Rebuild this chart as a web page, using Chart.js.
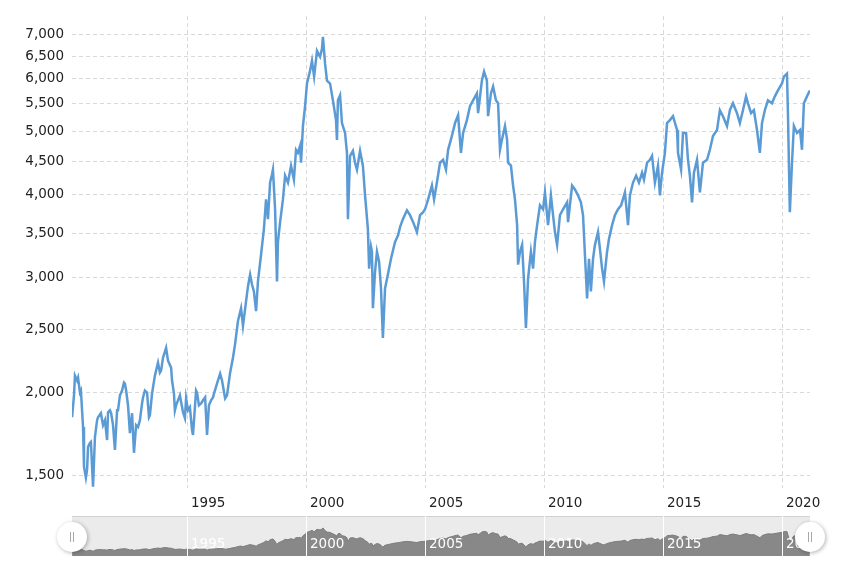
<!DOCTYPE html>
<html>
<head>
<meta charset="utf-8">
<script src="https://cdn.jsdelivr.net/npm/chart.js@4.4.1/dist/chart.umd.min.js"></script>
<style>
  html, body { margin: 0; padding: 0; background: #fff; }
  #wrap { position: relative; width: 855px; height: 577px; }
  #mainChart { position: absolute; left: 0; top: 0; }
  #navChart { position: absolute; left: 0; top: 505px; }
</style>
</head>
<body>
<div id="wrap">
  <canvas id="mainChart" width="855" height="577"></canvas>
  <canvas id="navChart" width="855" height="72"></canvas>
</div>
<script>
// index level, x = decimal year
const years = [
  1990.13, 1990.21, 1990.25, 1990.34, 1990.38, 1990.46, 1990.50, 1990.59, 1990.63, 1990.71,
  1990.76, 1990.80, 1990.88, 1990.92, 1991.01, 1991.09, 1991.18, 1991.22, 1991.34, 1991.43,
  1991.51, 1991.60, 1991.64, 1991.72, 1991.77, 1991.85, 1991.93, 1992.02, 1992.06, 1992.14,
  1992.23, 1992.31, 1992.35, 1992.40, 1992.48, 1992.56, 1992.65, 1992.73, 1992.82, 1992.90,
  1992.98, 1993.07, 1993.11, 1993.19, 1993.28, 1993.36, 1993.40, 1993.49, 1993.61, 1993.74,
  1993.82, 1993.87, 1993.95, 1994.08, 1994.16, 1994.29, 1994.33, 1994.41, 1994.45, 1994.50,
  1994.66, 1994.79, 1994.87, 1994.92, 1995.00, 1995.08, 1995.17, 1995.21, 1995.34, 1995.38,
  1995.46, 1995.55, 1995.63, 1995.72, 1995.80, 1995.88, 1995.97, 1996.05, 1996.13, 1996.26,
  1996.35, 1996.43, 1996.56, 1996.64, 1996.77, 1996.89, 1996.98, 1997.10, 1997.23, 1997.31,
  1997.44, 1997.52, 1997.61, 1997.69, 1997.77, 1997.86, 1997.94, 1998.07, 1998.19, 1998.28,
  1998.36, 1998.45, 1998.53, 1998.57, 1998.66, 1998.74, 1998.78, 1998.87, 1998.99, 1999.08,
  1999.20, 1999.33, 1999.45, 1999.54, 1999.62, 1999.71, 1999.75, 1999.83, 1999.92, 2000.00,
  2000.13, 2000.21, 2000.30, 2000.42, 2000.55, 2000.63, 2000.67, 2000.76, 2000.84, 2000.97,
  2001.09, 2001.22, 2001.26, 2001.30, 2001.39, 2001.47, 2001.60, 2001.68, 2001.72, 2001.81,
  2001.93, 2002.02, 2002.10, 2002.23, 2002.35, 2002.44, 2002.56, 2002.61, 2002.69, 2002.73,
  2002.77, 2002.86, 2002.94, 2003.03, 2003.11, 2003.19, 2003.28, 2003.40, 2003.53, 2003.70,
  2003.83, 2003.91, 2004.03, 2004.20, 2004.33, 2004.46, 2004.62, 2004.75, 2004.88, 2004.96,
  2005.09, 2005.25, 2005.34, 2005.46, 2005.59, 2005.72, 2005.84, 2005.93, 2006.09, 2006.22,
  2006.35, 2006.47, 2006.56, 2006.72, 2006.85, 2006.98, 2007.14, 2007.19, 2007.35, 2007.44,
  2007.56, 2007.61, 2007.73, 2007.82, 2007.94, 2008.03, 2008.11, 2008.19, 2008.32, 2008.41,
  2008.45, 2008.57, 2008.66, 2008.74, 2008.83, 2008.87, 2008.95, 2009.04, 2009.12, 2009.20,
  2009.29, 2009.41, 2009.50, 2009.58, 2009.67, 2009.79, 2009.92, 2010.00, 2010.13, 2010.25,
  2010.34, 2010.42, 2010.51, 2010.63, 2010.76, 2010.93, 2010.97, 2011.14, 2011.26, 2011.39,
  2011.51, 2011.60, 2011.68, 2011.77, 2011.85, 2011.93, 2012.02, 2012.10, 2012.23, 2012.31,
  2012.40, 2012.48, 2012.61, 2012.69, 2012.82, 2012.94, 2013.07, 2013.20, 2013.36, 2013.49,
  2013.57, 2013.70, 2013.83, 2013.95, 2014.08, 2014.16, 2014.29, 2014.41, 2014.50, 2014.62,
  2014.75, 2014.83, 2014.92, 2015.04, 2015.13, 2015.25, 2015.38, 2015.55, 2015.59, 2015.72,
  2015.80, 2015.93, 2016.01, 2016.09, 2016.18, 2016.26, 2016.39, 2016.51, 2016.64, 2016.81,
  2016.93, 2017.06, 2017.23, 2017.35, 2017.48, 2017.65, 2017.77, 2017.90, 2018.07, 2018.19,
  2018.32, 2018.45, 2018.53, 2018.66, 2018.78, 2018.91, 2019.03, 2019.12, 2019.24, 2019.37,
  2019.54, 2019.66, 2019.79, 2019.96, 2020.04, 2020.17, 2020.21, 2020.25, 2020.29, 2020.38,
  2020.46, 2020.59, 2020.72, 2020.80, 2020.88, 2021.01, 2021.13
];

const levels = [
  1837, 1983, 2125, 2089, 2110, 2003, 2017, 1775, 1545, 1487,
  1529, 1656, 1679, 1685, 1441, 1714, 1818, 1837, 1863, 1787,
  1818, 1696, 1869, 1882, 1863, 1787, 1639, 1882, 1882, 1983,
  2017, 2074, 2067, 2017, 1915, 1738, 1863, 1622, 1787, 1775,
  1818, 1928, 1969, 2017, 2003, 1837, 1850, 1996, 2125, 2223,
  2147, 2162, 2262, 2342, 2239, 2185, 2089, 1996, 1882, 1915,
  1983, 1869, 1831, 1962, 1882, 1902, 1756, 1726, 2017, 2003,
  1915, 1928, 1949, 1969, 1726, 1915, 1949, 1969, 2017, 2089,
  2140, 2089, 1962, 1983, 2147, 2262, 2375, 2572, 2690, 2528,
  2756, 2903, 3026, 2923, 2853, 2662, 2954, 3244, 3549, 3937,
  3674, 4176, 4294, 4369, 3803, 2954, 3393, 3636, 3937, 4279,
  4176, 4430, 4220, 4683, 4634, 4748, 4476, 5089, 5454, 5906,
  6178, 6396, 6051, 6622, 6486, 6669, 6952, 6330, 5967, 5906,
  5568, 5196, 4848, 5568, 5666, 5142, 4967, 4634, 3674, 4586,
  4667, 4476, 4369, 4667, 4430, 3993, 3549, 3090, 3335, 3278,
  2690, 3058, 3278, 3166, 2883, 2425, 2883, 3026, 3199, 3393,
  3476, 3573, 3674, 3790, 3725, 3636, 3512, 3725, 3764, 3803,
  3937, 4133, 3937, 4176, 4476, 4523, 4369, 4683, 4916, 5142,
  5287, 4634, 4967, 5196, 5454, 5568, 5705, 5323, 5967, 6157,
  5967, 5268, 5705, 5845, 5568, 5511, 4683, 4848, 5089, 4848,
  4476, 4430, 4133, 3937, 3598, 3133, 3278, 3358, 2954, 2511,
  2985, 3278, 3090, 3393, 3598, 3856, 3803, 4034, 3598, 3993,
  3725, 3512, 3358, 3725, 3803, 3897, 3636, 4133, 4076, 3993,
  3897, 3725, 3244, 2785, 3199, 2853, 3199, 3358, 3512, 3312,
  3090, 2954, 3278, 3428, 3598, 3725, 3803, 3856, 4034, 3598,
  3993, 4176, 4279, 4176, 4324, 4220, 4476, 4523, 4586, 4176,
  4430, 3993, 4324, 4634, 5142, 5196, 5268, 5019, 4634, 4369,
  4967, 4967, 4523, 4279, 3897, 4324, 4523, 4034, 4476, 4523,
  4683, 4916, 5019, 5379, 5268, 5089, 5379, 5511, 5323, 5142,
  5379, 5646, 5511, 5323, 5379, 5019, 4634, 5142, 5379, 5568,
  5511, 5646, 5764, 5906, 6051, 6114, 5323, 4476, 3764, 4476,
  5089, 4967, 5019, 4683, 5511, 5646, 5764
];

const yearTicks = [1995, 2000, 2005, 2010, 2015, 2020];
const levelTicks = [1500, 2000, 2500, 3000, 3500, 4000, 4500, 5000, 5500, 6000, 6500, 7000];

const xMin = 1990.126, xMax = 2021.137;
const yMin = 1434, yMax = 7477;

const points = years.map((t, i) => ({ x: t, y: levels[i] }));
const FONT = { family: 'DejaVu Sans', size: 13.5 };
const GRID = '#d9d9d9';

const mainChart = new Chart(document.getElementById('mainChart'), {
    type: 'line',
    data: {
        datasets: [{
            data: points,
            borderColor: '#5b9bd5',
            borderWidth: 2.5,
            pointRadius: 0,
            tension: 0,
            fill: false
        }]
    },
    options: {
        responsive: false,
        animation: false,
        layout: { padding: { top: 12, right: 45, bottom: 0, left: 0 } },
        plugins: { legend: { display: false }, tooltip: { enabled: false } },
        scales: {
            x: {
                type: 'linear',
                min: xMin,
                max: xMax,
                afterBuildTicks: axis => { axis.ticks = yearTicks.map(v => ({ value: v })); },
                afterFit: axis => { axis.height = 89; },
                grid: { color: GRID, drawTicks: false },
                border: { display: false, dash: [4, 3] },
                ticks: {
                    align: 'start',
                    labelOffset: 3,
                    padding: 7,
                    maxRotation: 0,
                    autoSkip: false,
                    color: '#222',
                    font: FONT,
                    callback: v => String(v)
                }
            },
            y: {
                type: 'logarithmic',
                min: yMin,
                max: yMax,
                afterBuildTicks: axis => { axis.ticks = levelTicks.map(v => ({ value: v })); },
                afterFit: axis => { axis.width = 72; },
                grid: { color: GRID, drawTicks: false },
                border: { display: false, dash: [4, 3] },
                ticks: {
                    padding: 8,
                    color: '#222',
                    font: FONT,
                    callback: v => Number(v).toLocaleString('en-US')
                }
            }
        }
    }
});

// navigator strip: grey box, white handles
const navDecor = {
    id: 'navDecor',
    beforeDraw(chart) {
        const { ctx, chartArea: a } = chart;
        ctx.save();
        ctx.fillStyle = '#ebebeb';
        ctx.fillRect(a.left, a.top, a.right - a.left, a.bottom - a.top);
        ctx.strokeStyle = '#d2d2d2';
        ctx.lineWidth = 1;
        ctx.beginPath();
        ctx.moveTo(a.left, a.top + 0.5);
        ctx.lineTo(a.right, a.top + 0.5);
        ctx.stroke();
        ctx.restore();
    },
    afterDraw(chart) {
        const { ctx, chartArea: a } = chart;
        const cy = (a.top + a.bottom) / 2 + 1;
        [a.left, a.right].forEach(cx => {
            ctx.save();
            ctx.shadowColor = 'rgba(0,0,0,0.3)';
            ctx.shadowBlur = 4;
            ctx.shadowOffsetX = 1;
            ctx.shadowOffsetY = 1;
            ctx.fillStyle = '#fff';
            ctx.beginPath();
            ctx.arc(cx, cy, 15, 0, Math.PI * 2);
            ctx.fill();
            ctx.restore();
            ctx.save();
            ctx.strokeStyle = '#a8a8a8';
            ctx.lineWidth = 1;
            ctx.beginPath();
            ctx.moveTo(Math.round(cx) - 1.5, cy - 5);
            ctx.lineTo(Math.round(cx) - 1.5, cy + 5);
            ctx.moveTo(Math.round(cx) + 1.5, cy - 5);
            ctx.lineTo(Math.round(cx) + 1.5, cy + 5);
            ctx.stroke();
            ctx.restore();
        });
    }
};

const navChart = new Chart(document.getElementById('navChart'), {
    type: 'line',
    data: {
        datasets: [{
            data: points,
            borderColor: '#7d7d7d',
            backgroundColor: '#888888',
            borderWidth: 1,
            pointRadius: 0,
            tension: 0,
            fill: 'start'
        }]
    },
    options: {
        responsive: false,
        animation: false,
        layout: { padding: { top: 11, right: 45, bottom: 0, left: 72 } },
        plugins: { legend: { display: false }, tooltip: { enabled: false } },
        scales: {
            x: {
                type: 'linear',
                min: xMin,
                max: xMax,
                afterBuildTicks: axis => { axis.ticks = yearTicks.map(v => ({ value: v })); },
                afterFit: axis => { axis.height = 21; },
                grid: { color: '#ffffff', drawTicks: false, z: 1 },
                border: { display: false },
                ticks: {
                    z: 1,
                    mirror: true,
                    align: 'start',
                    labelOffset: 3,
                    padding: 3,
                    maxRotation: 0,
                    autoSkip: false,
                    color: '#ffffff',
                    font: FONT,
                    callback: v => String(v)
                }
            },
            y: {
                display: false,
                min: 350,
                max: 9760
            }
        }
    },
    plugins: [navDecor]
});
</script>
</body>
</html>
